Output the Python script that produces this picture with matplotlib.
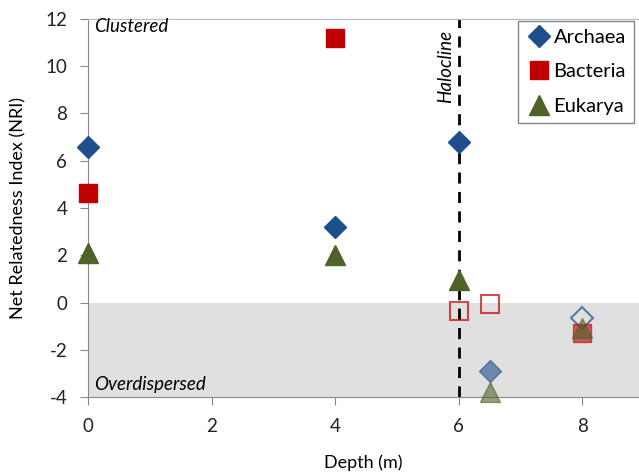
import matplotlib
matplotlib.use("Agg")
import matplotlib.pyplot as plt
from matplotlib.lines import Line2D

plt.rcParams['font.family'] = ['Lato', 'DejaVu Sans']
plt.rcParams['axes.unicode_minus'] = False

depth = [0, 4, 6, 6.5, 8]
archaea = [6.6, 3.2, 6.8, -2.9, -0.65]
bacteria = [4.65, 11.2, -0.38, -0.05, -1.3]
eukarya = [2.1, 2.0, 0.95, -3.8, -1.1]
# style per point: 's' solid, 'f' faded, 'o' open
archaea_style = ['s', 's', 's', 'f', 'o']
bacteria_style = ['s', 's', 'o', 'o', 'f']
eukarya_style = ['s', 's', 's', 'f', 'f']

series = [
    ("Archaea", archaea, archaea_style, '#1f4e8c', 'D', 11),
    ("Bacteria", bacteria, bacteria_style, '#c00000', 's', 13),
    ("Eukarya", eukarya, eukarya_style, '#4f6228', '^', 14),
]

fig = plt.figure(figsize=(6.39, 4.74), dpi=100)
ax = fig.add_axes([0.138, 0.1624, 0.862, 0.7976])
ax.set_xlim(0, 8.92)
ax.set_ylim(-4, 12)
ax.axhspan(-4, 0, color='#e0e0e0', zorder=0, lw=0)

for name, vals, styles, color, mk, ms in series:
    for x, y, st in zip(depth, vals, styles):
        if st == 's':
            ax.plot(x, y, mk, color=color, ms=ms, mec=color, zorder=3, clip_on=False)
        elif st == 'f':
            ax.plot(x, y, mk, color=color, ms=ms, mec=color, alpha=0.6, zorder=3, clip_on=False)
        else:
            ax.plot(x, y, mk, mfc='none', mec=color, mew=1.5, ms=ms, alpha=0.7, zorder=3, clip_on=False)

ax.axvline(6, color='black', ls=(0, (4, 3)), lw=2, zorder=2)

ax.text(0.1, 11.7, "Clustered", style='italic', fontsize=13.5, va='center', ha='left')
ax.text(0.1, -3.45, "Overdispersed", style='italic', fontsize=13.5, va='center', ha='left')
ax.text(5.78, 10.0, "Halocline", style='italic', fontsize=13.5, rotation=90, va='center', ha='center')

ax.set_xticks([0, 2, 4, 6, 8])
ax.set_yticks(range(-4, 13, 2))
ax.tick_params(axis='both', colors='#888888', labelcolor='#222222', labelsize=13.5, length=6)
ax.tick_params(axis='x', pad=9)
ax.tick_params(axis='y', pad=9)
ax.set_xlabel("Depth (m)", fontsize=13, labelpad=14)
ax.set_ylabel("Net Relatedness Index (NRI)", fontsize=13, labelpad=14)
for s in ['left', 'bottom']:
    ax.spines[s].set_color('#888888')
ax.spines['top'].set_color('#a8bcd8')
ax.spines['right'].set_visible(False)

handles = [Line2D([], [], marker=m, color=c, ls='none', ms=ms * 1.05) for _, _, _, c, m, ms in series]
leg = ax.legend(handles, [s[0] for s in series], loc='upper right', bbox_to_anchor=(0.998, 1.005),
                fontsize=14.5, frameon=True, fancybox=False, edgecolor='#666666',
                handletextpad=0.05, borderpad=0.4, labelspacing=0.85, handlelength=1.3,
                borderaxespad=0.2)
leg.get_frame().set_linewidth(1)

fig.savefig("out.png", dpi=100)
